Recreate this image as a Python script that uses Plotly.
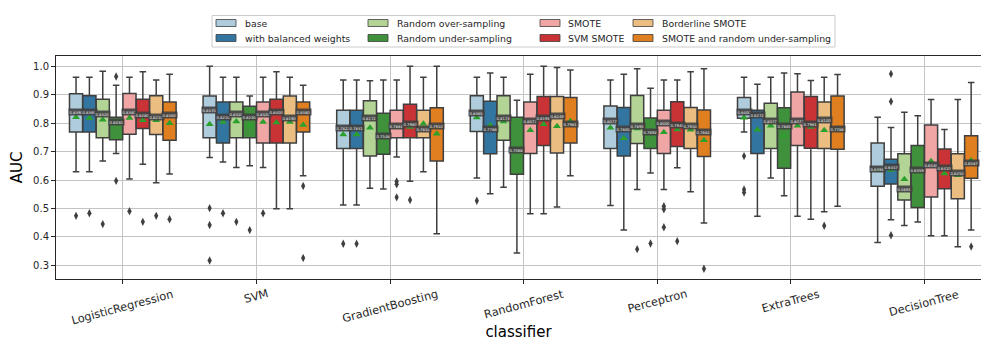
import plotly.graph_objects as go

# ---------------- data ----------------
classifiers = ["LogisticRegression", "SVM", "GradientBoosting", "RandomForest",
               "Perceptron", "ExtraTrees", "DecisionTree"]
methods = ["base", "with balanced weights", "Random over-sampling", "Random under-sampling",
           "SMOTE", "SVM SMOTE", "Borderline SMOTE", "SMOTE and random under-sampling"]
colors = ["#aeccdb", "#3275a1", "#b3d495", "#40913b",
          "#efa6a5", "#ca3335", "#ebbd81", "#df7f20"]

# rows: methods (same order as `methods`), columns: classifiers
upper_whisker = [
    [0.961, 1.000, 0.952, 0.961, 0.952, 0.961, 0.821],
    [0.961, 0.961, 0.952, 0.976, 0.972, 0.937, 0.785],
    [0.982, 0.961, 0.949, 0.961, 0.991, 0.961, 0.838],
    [0.933, 0.895, 0.952, 0.880, 0.923, 0.976, 0.826],
    [0.961, 0.961, 0.952, 0.972, 0.952, 0.974, 0.883],
    [0.981, 0.981, 1.000, 1.000, 0.952, 0.950, 0.778],
    [0.952, 0.961, 0.961, 0.996, 0.981, 0.961, 0.883],
    [0.972, 0.933, 1.000, 0.987, 0.991, 0.971, 0.943],
]
q3 = [
    [0.903, 0.895, 0.845, 0.896, 0.860, 0.890, 0.730],
    [0.896, 0.874, 0.845, 0.877, 0.855, 0.845, 0.673],
    [0.884, 0.874, 0.879, 0.896, 0.897, 0.870, 0.692],
    [0.821, 0.859, 0.835, 0.821, 0.818, 0.854, 0.721],
    [0.904, 0.874, 0.845, 0.874, 0.845, 0.909, 0.793],
    [0.884, 0.884, 0.866, 0.894, 0.875, 0.894, 0.709],
    [0.896, 0.895, 0.845, 0.894, 0.855, 0.874, 0.692],
    [0.874, 0.874, 0.854, 0.890, 0.846, 0.895, 0.756],
]
median = [
    [0.8390, 0.8470, 0.7822, 0.8365, 0.8077, 0.8400, 0.6394],
    [0.8385, 0.8210, 0.7831, 0.7788, 0.7800, 0.8272, 0.6447],
    [0.8320, 0.8320, 0.8172, 0.8173, 0.7895, 0.8077, 0.5691],
    [0.8030, 0.8230, 0.7548, 0.7068, 0.7692, 0.7885, 0.6359],
    [0.8380, 0.8320, 0.7884, 0.8077, 0.8000, 0.8077, 0.6538],
    [0.8280, 0.8400, 0.7960, 0.8193, 0.7949, 0.7981, 0.6410],
    [0.8210, 0.8190, 0.7810, 0.8249, 0.7910, 0.8100, 0.6250],
    [0.8300, 0.8380, 0.7910, 0.7981, 0.7682, 0.7788, 0.6587],
]
q1 = [
    [0.769, 0.749, 0.711, 0.771, 0.711, 0.817, 0.578],
    [0.769, 0.730, 0.711, 0.692, 0.684, 0.693, 0.586],
    [0.749, 0.749, 0.684, 0.740, 0.728, 0.711, 0.530],
    [0.742, 0.749, 0.691, 0.620, 0.711, 0.641, 0.503],
    [0.761, 0.730, 0.749, 0.693, 0.693, 0.721, 0.540],
    [0.781, 0.730, 0.749, 0.721, 0.718, 0.712, 0.569],
    [0.760, 0.730, 0.749, 0.695, 0.711, 0.711, 0.534],
    [0.740, 0.769, 0.667, 0.730, 0.683, 0.708, 0.606],
]
lower_whisker = [
    [0.629, 0.679, 0.512, 0.607, 0.510, 0.769, 0.380],
    [0.629, 0.663, 0.512, 0.552, 0.424, 0.473, 0.460],
    [0.667, 0.644, 0.571, 0.575, 0.567, 0.607, 0.440],
    [0.693, 0.650, 0.568, 0.343, 0.625, 0.545, 0.452],
    [0.604, 0.644, 0.681, 0.481, 0.567, 0.473, 0.404],
    [0.655, 0.499, 0.596, 0.481, 0.643, 0.462, 0.404],
    [0.590, 0.499, 0.629, 0.505, 0.559, 0.488, 0.365],
    [0.621, 0.615, 0.411, 0.615, 0.449, 0.508, 0.424],
]
mean = [
    [0.821, 0.796, 0.760, 0.820, 0.784, 0.819, 0.635],
    [0.818, 0.804, 0.760, 0.792, 0.747, 0.777, 0.635],
    [0.812, 0.806, 0.784, 0.806, 0.781, 0.791, 0.603],
    [0.803, 0.792, 0.755, 0.706, 0.769, 0.756, 0.636],
    [0.818, 0.804, 0.786, 0.775, 0.768, 0.791, 0.666],
    [0.810, 0.802, 0.786, 0.796, 0.778, 0.786, 0.623],
    [0.810, 0.804, 0.798, 0.789, 0.777, 0.775, 0.617],
    [0.800, 0.793, 0.763, 0.807, 0.740, 0.779, 0.669],
]
outliers = [
    [[0.474], [0.501, 0.442, 0.317], [0.376], [0.527], [], [0.684, 0.567, 0.556], []],
    [[0.483], [0.483], [0.376], [], [], [], [0.973, 0.876, 0.406]],
    [[0.445], [0.453], [], [], [0.357], [], []],
    [[0.964, 0.597], [0.424], [], [], [0.377], [], []],
    [[0.490], [0.483], [0.595, 0.585, 0.539], [], [0.508, 0.497, 0.434], [], []],
    [[0.453], [], [0.530], [], [0.385], [], []],
    [[0.474], [], [], [], [], [0.439], []],
    [[0.462], [0.579, 0.326], [], [], [0.288], [], [0.366]],
]
ytick_vals = [0.3, 0.4, 0.5, 0.6, 0.7, 0.8, 0.9, 1.0]

# ---------------- layout constants ----------------
W, H = 981, 341
ML, MR, MT, MB = 56, 0, 56, 62
PW, PH = W - ML - MR, H - MT - MB
n_hue = len(methods)
hue_step = 0.8 / n_hue
box_w = hue_step * 0.98
FONT = "DejaVu Sans"
LINE = "#3f3f3f"
PX_PER_CAT = 133.6


def px_x(p):
    return (p - ML) / PW


def px_y(p):
    return (H - MB - p) / PH


fig = go.Figure()

mean_x, mean_y, out_x, out_y = [], [], [], []
annotations = []
for k, m in enumerate(methods):
    xs = [i + (k - (n_hue - 1) / 2) * hue_step for i in range(len(classifiers))]
    fig.add_trace(go.Box(
        x=xs, q1=q1[k], median=median[k], q3=q3[k],
        lowerfence=lower_whisker[k], upperfence=upper_whisker[k],
        orientation="v", width=box_w, whiskerwidth=0.5,
        fillcolor=colors[k], line=dict(color=LINE, width=1.5),
        name=m, showlegend=False, boxpoints=False,
    ))
    for i, x in enumerate(xs):
        mean_x.append(x)
        mean_y.append(mean[k][i])
        for o in outliers[k][i]:
            out_x.append(x)
            out_y.append(o)
        annotations.append(dict(
            x=x, y=median[k][i], xref="x", yref="y",
            text=f"{median[k][i]:.4f}", showarrow=False,
            font=dict(family=FONT, size=3.8, color="#f0f0f0"),
            bgcolor="rgba(64,64,64,0.9)", borderpad=0.5,
            xanchor="center", yanchor="middle",
        ))

fig.add_trace(go.Scatter(
    x=out_x, y=out_y, mode="markers", showlegend=False,
    marker=dict(symbol="diamond-tall", size=6, color=LINE),
))
fig.add_trace(go.Scatter(
    x=mean_x, y=mean_y, mode="markers", showlegend=False,
    marker=dict(symbol="triangle-up", size=7, color="#2ca02c"),
))

# category labels (rotated, centred on the tick like the reference)
for i, c in enumerate(classifiers):
    annotations.append(dict(
        x=i, xref="x", y=px_y(285.0), yref="paper", text=c, showarrow=False,
        textangle=-15, xanchor="center", yanchor="top",
        font=dict(family=FONT, size=11.3, color="#262626"),
    ))

# legend drawn as patches + labels
shapes = [dict(type="rect", xref="paper", yref="paper",
               x0=px_x(212), x1=px_x(835), y0=px_y(47), y1=px_y(15.5),
               line=dict(color="#cccccc", width=1), fillcolor="white", layer="above")]
patch_x = [216, 368, 540, 633]
text_x = [243, 395, 566, 660]
row_y = [23, 38]
for k, m in enumerate(methods):
    col, row = k // 2, k % 2
    cy = row_y[row]
    shapes.append(dict(type="rect", xref="paper", yref="paper",
                       x0=px_x(patch_x[col]), x1=px_x(patch_x[col] + 20),
                       y0=px_y(cy + 3.5), y1=px_y(cy - 3.5),
                       line=dict(color=LINE, width=0.8), fillcolor=colors[k], layer="above"))
    annotations.append(dict(
        x=px_x(text_x[col]), y=px_y(cy), xref="paper", yref="paper", text=m,
        showarrow=False, xanchor="left", yanchor="middle",
        font=dict(family=FONT, size=9.4, color="#262626"),
    ))

x_end = -0.5 + PW / PX_PER_CAT
fig.update_layout(
    width=W, height=H,
    margin=dict(l=ML, r=MR, t=MT, b=MB, pad=0),
    paper_bgcolor="white", plot_bgcolor="white",
    font=dict(family=FONT, size=10, color="#262626"),
    boxmode="overlay",
    showlegend=False,
    shapes=shapes,
    annotations=annotations,
    xaxis=dict(
        range=[-0.5, x_end], tickvals=list(range(len(classifiers))),
        showticklabels=False, ticks="outside", ticklen=4, tickcolor="#262626",
        showgrid=True, gridcolor="#c4c4c4", gridwidth=1,
        showline=True, linecolor="#262626", linewidth=1, mirror=True,
        zeroline=False,
        title=dict(text="classifier", font=dict(family=FONT, size=15, color="#000000"),
                   standoff=45),
    ),
    yaxis=dict(
        range=[0.252, 1.036], tickvals=ytick_vals, tickformat=".1f",
        ticks="outside", ticklen=4, tickcolor="#262626",
        tickfont=dict(family=FONT, size=10, color="#262626"),
        showgrid=True, gridcolor="#c4c4c4", gridwidth=1,
        showline=True, linecolor="#262626", linewidth=1, mirror=False,
        zeroline=False,
        title=dict(text="AUC", font=dict(family=FONT, size=15, color="#000000"),
                   standoff=6),
    ),
)

fig.write_html("out.html")
